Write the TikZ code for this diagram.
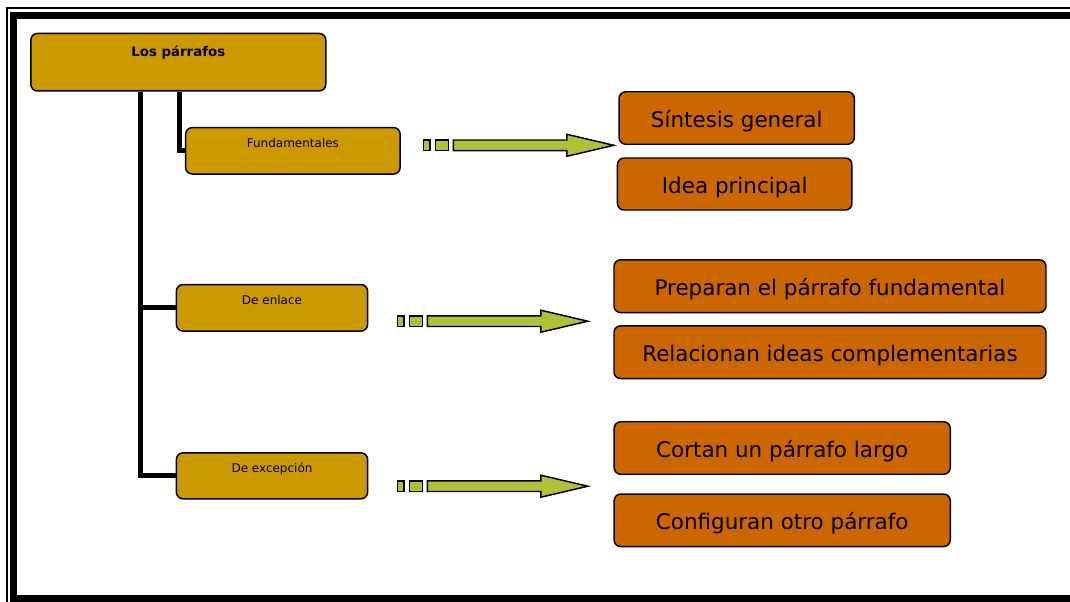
\documentclass[tikz,border=0pt]{standalone}
\usepackage{fontspec}
\setmainfont{DejaVu Sans}
\definecolor{gold}{RGB}{204,153,0}
\definecolor{rust}{RGB}{204,102,0}
\definecolor{leaf}{RGB}{176,192,56}
\tikzset{
  goldbox/.style={draw=black, fill=gold, line width=1.1pt, rounded corners=5pt,
    inner sep=0pt, font=\fontsize{9}{10}\selectfont, text height=6.6pt, text depth=11.4pt},
  rootbox/.style={goldbox, font=\fontsize{10}{12}\selectfont\bfseries,
    text height=7.3pt, text depth=15.2pt},
  rustbox/.style={draw=black, fill=rust, line width=1.1pt, rounded corners=5pt,
    inner sep=0pt, font=\fontsize{16.1}{18}\selectfont, text height=14.4pt, text depth=0pt},
  conn/.style={line width=3.75pt, line join=miter},
  arrowpart/.style={draw=black, fill=leaf, line width=1.1pt, line join=miter},
  pics/blockarrow/.style={code={
    \draw[arrowpart] (0,-5.3) rectangle (6.5,5.3);
    \draw[arrowpart] (12,-5.3) rectangle (25,5.3);
    \draw[arrowpart] (30,-5.3) -- (143.5,-5.3) -- (143.5,-11) -- (190.5,0)
      -- (143.5,11) -- (143.5,5.3) -- (30,5.3) -- cycle;
  }}
}
\begin{document}
\begin{tikzpicture}[x=0.75pt,y=-0.75pt]
  \useasboundingbox (0,0) rectangle (1070,601);
  \clip (0,0) rectangle (1070,601);

  % double frame
  \draw[line width=1.5pt] (6.5,7.7) rectangle (1090,612);
  \draw[line width=5.4pt] (13.2,15.3) rectangle (1080,598.5);

  % categories
  \node[rootbox, minimum width={295*0.75pt}, minimum height={57.5*0.75pt}]
    (root) at (178.3,62.2) {Los párrafos};
  \node[goldbox, minimum width={214.5*0.75pt}, minimum height={46.5*0.75pt}]
    (fund) at (292.9,150.8) {Fundamentales};
  \node[goldbox, minimum width={191.3*0.75pt}, minimum height={46.5*0.75pt}]
    (enl) at (272,307.8) {De enlace};
  \node[goldbox, minimum width={191.3*0.75pt}, minimum height={46*0.75pt}]
    (exc) at (272,475.8) {De excepción};

  % descriptions
  \node[rustbox, minimum width={235.2*0.75pt}, minimum height={52.5*0.75pt}]
    (sint) at (736.7,118) {Síntesis general};
  \node[rustbox, minimum width={234.5*0.75pt}, minimum height={52*0.75pt}]
    (idea) at (734.7,184) {Idea principal};
  \node[rustbox, minimum width={432*0.75pt}, minimum height={52.8*0.75pt}]
    (prep) at (830,286.2) {Preparan el párrafo fundamental};
  \node[rustbox, minimum width={432*0.75pt}, minimum height={52.8*0.75pt}]
    (rel) at (830,352.2) {Relacionan ideas complementarias};
  \node[rustbox, minimum width={336.2*0.75pt}, minimum height={52.5*0.75pt}]
    (cort) at (782.2,448) {Cortan un párrafo largo};
  \node[rustbox, minimum width={336.2*0.75pt}, minimum height={52.5*0.75pt}]
    (conf) at (782.2,520.3) {Configuran otro párrafo};

  % tree connectors
  \coordinate (trunk) at (140.5,0);
  \coordinate (branch) at (179,0);
  \draw[conn] (root.south -| trunk) |- (exc.west);
  \draw[conn] (trunk |- enl.west) -- (enl.west);
  \draw[conn] (root.south -| branch) |- (fund.west);

  % block arrows
  \pic at (423.3,145.3) {blockarrow};
  \pic at (397.3,321.2) {blockarrow};
  \pic at (397.3,486.2) {blockarrow};
\end{tikzpicture}
\end{document}
